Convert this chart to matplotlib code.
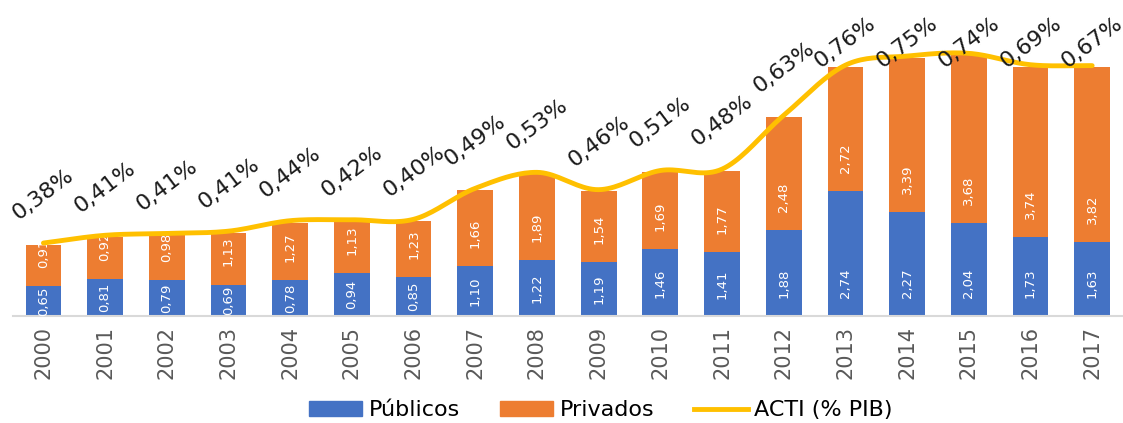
import numpy as np
import matplotlib
matplotlib.use("Agg")
import matplotlib.pyplot as plt
from matplotlib.patches import Patch
from matplotlib.lines import Line2D

# Data
years = [str(y) for y in range(2000, 2018)]
publicos = [0.65, 0.81, 0.79, 0.69, 0.78, 0.94, 0.85, 1.10, 1.22, 1.19,
            1.46, 1.41, 1.88, 2.74, 2.27, 2.04, 1.73, 1.63]
privados = [0.91, 0.92, 0.98, 1.13, 1.27, 1.13, 1.23, 1.66, 1.89, 1.54,
            1.69, 1.77, 2.48, 2.72, 3.39, 3.68, 3.74, 3.82]
acti_pib = [0.38, 0.41, 0.41, 0.41, 0.44, 0.42, 0.40, 0.49, 0.53, 0.46,
            0.51, 0.48, 0.63, 0.76, 0.75, 0.74, 0.69, 0.67]

BLUE = '#4472C4'
ORANGE = '#ED7D31'
YELLOW = '#FFC000'


def fmt(v, decimals=2):
    return f"{v:.{decimals}f}".replace('.', ',')


def catmull_rom(x, y, n=20):
    """Smooth curve through the points (like Excel's smoothed line)."""
    x = np.asarray(x, float)
    y = np.asarray(y, float)
    px = np.concatenate([[2 * x[0] - x[1]], x, [2 * x[-1] - x[-2]]])
    py = np.concatenate([[2 * y[0] - y[1]], y, [2 * y[-1] - y[-2]]])
    xs, ys = [], []
    t = np.linspace(0, 1, n, endpoint=False)
    for i in range(1, len(px) - 2):
        for arr, out in ((px, xs), (py, ys)):
            p0, p1, p2, p3 = arr[i - 1], arr[i], arr[i + 1], arr[i + 2]
            out.extend(0.5 * ((2 * p1) + (-p0 + p2) * t
                              + (2 * p0 - 5 * p1 + 4 * p2 - p3) * t ** 2
                              + (-p0 + 3 * p1 - 3 * p2 + p3) * t ** 3))
    xs.append(x[-1])
    ys.append(y[-1])
    return np.array(xs), np.array(ys)


fig = plt.figure(figsize=(11.23, 4.23), dpi=100)
ax = fig.add_axes([0.0112, 0.253, 0.9888, 0.6468])

x = np.arange(len(years))
pub = np.array(publicos)
priv = np.array(privados)
total = pub + priv

ax.bar(x, pub, width=0.58, color=BLUE, zorder=2)
ax.bar(x, priv, width=0.58, bottom=pub, color=ORANGE, zorder=2)

# value labels inside the bars
for i in x:
    ax.text(i, min(pub[i] / 2, 0.72), fmt(pub[i]), rotation=90,
            ha='center', va='center', color='white', fontsize=9.5, zorder=3)
    ax.text(i, pub[i] + 0.72, fmt(priv[i]), rotation=90,
            ha='center', va='center', color='white', fontsize=9.5, zorder=3)

# ACTI line drawn over the bar totals
sx, sy = catmull_rom(x, total + 0.04)
ax.plot(sx, sy, color=YELLOW, lw=3.5, solid_capstyle='round', zorder=4)

# percentage labels (the last one runs off the right edge, as in the source)
for i in x:
    ax.text(i, min(total[i] + 1.1, 6.0), fmt(acti_pib[i]) + '%',
            rotation=37, ha='center', va='center', fontsize=16,
            color='#1a1a1a', clip_on=False, zorder=5,
            rotation_mode='anchor')

ax.set_xlim(-0.5, 17.5)
ax.set_ylim(0, 6)
ax.set_xticks(x)
ax.set_xticklabels(years, rotation=90, fontsize=15, color='#595959')
ax.tick_params(axis='x', length=0, pad=7)
ax.set_yticks([])
for side in ('top', 'left', 'right'):
    ax.spines[side].set_visible(False)
ax.spines['bottom'].set_color('#D9D9D9')
ax.spines['bottom'].set_linewidth(1.5)

handles = [Patch(color=BLUE, label='Públicos'),
           Patch(color=ORANGE, label='Privados'),
           Line2D([0], [0], color=YELLOW, lw=3.5, label='ACTI (% PIB)')]
fig.legend(handles=handles, loc='center', bbox_to_anchor=(0.535, 0.03),
           ncol=3, frameon=False, fontsize=16, handlelength=2.4,
           handletextpad=0.3, columnspacing=1.8)

fig.savefig('out.png', dpi=100)
